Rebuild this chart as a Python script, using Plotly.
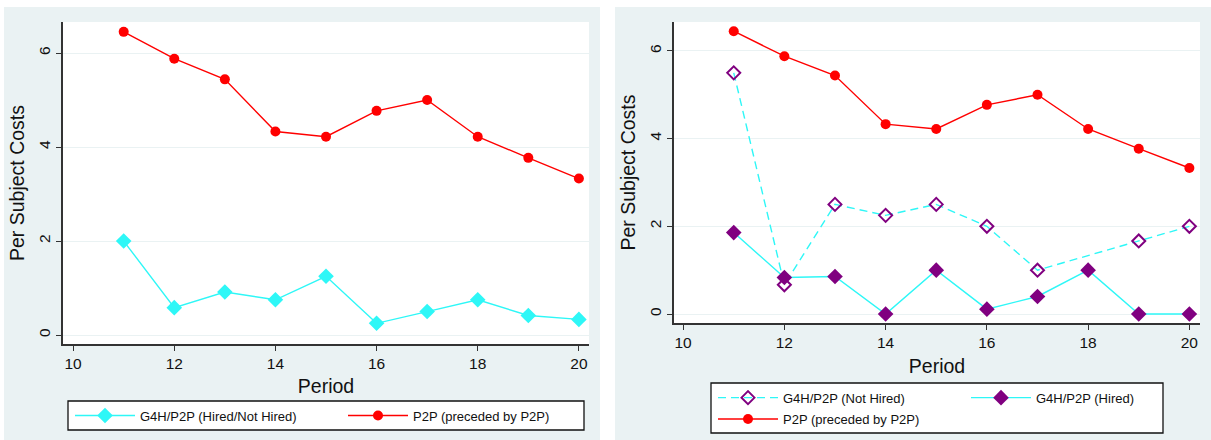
import plotly.graph_objects as go

# ---------------- data ----------------
periods = [11, 12, 13, 14, 15, 16, 17, 18, 19, 20]
p2p_costs = [6.45, 5.88, 5.44, 4.33, 4.22, 4.77, 5.0, 4.22, 3.77, 3.33]
g4h_all_costs = [2.0, 0.583, 0.917, 0.75, 1.25, 0.25, 0.5, 0.75, 0.417, 0.333]
g4h_not_hired = [5.5, 0.667, 2.5, 2.25, 2.5, 2.0, 1.0, None, 1.667, 2.0]
g4h_hired = [1.857, 0.833, 0.857, 0.0, 1.0, 0.111, 0.4, 1.0, 0.0, 0.0]
x_ticks = [10, 12, 14, 16, 18, 20]
y_ticks = [0, 2, 4, 6]

W, H = 1211, 440
def px(x):
    return x / W
def py(y):
    return 1 - y / H

CYAN = "#2EF7F7"
RED = "#FF0000"
PURPLE = "#800080"
BG = "#EAF2F3"
FONT = "Liberation Sans, Arial, sans-serif"

fig = go.Figure()

# left panel
fig.add_trace(go.Scatter(
    x=periods, y=g4h_all_costs, mode="lines+markers", name="G4H/P2P (Hired/Not Hired)",
    line=dict(color=CYAN, width=1.4), marker=dict(symbol="diamond", size=12, color=CYAN),
    xaxis="x", yaxis="y", legend="legend"))
fig.add_trace(go.Scatter(
    x=periods, y=p2p_costs, mode="lines+markers", name="P2P (preceded by P2P)",
    line=dict(color=RED, width=1.4), marker=dict(symbol="circle", size=10, color=RED),
    xaxis="x", yaxis="y", legend="legend2"))

# right panel
fig.add_trace(go.Scatter(
    x=periods, y=g4h_not_hired, mode="lines+markers", name="G4H/P2P (Not Hired)",
    connectgaps=True,
    line=dict(color=CYAN, width=1.4, dash="8px,5px"),
    marker=dict(symbol="diamond-open", size=10, color=PURPLE, line=dict(width=2, color=PURPLE)),
    xaxis="x2", yaxis="y2", legend="legend3"))
fig.add_trace(go.Scatter(
    x=periods, y=g4h_hired, mode="lines+markers", name="G4H/P2P (Hired)",
    line=dict(color=CYAN, width=1.4), marker=dict(symbol="diamond", size=12, color=PURPLE),
    xaxis="x2", yaxis="y2", legend="legend4"))
fig.add_trace(go.Scatter(
    x=periods, y=p2p_costs, mode="lines+markers", name="P2P (preceded by P2P)",
    line=dict(color=RED, width=1.4), marker=dict(symbol="circle", size=10, color=RED),
    xaxis="x2", yaxis="y2", legend="legend5"))

axis_common = dict(
    showline=True, linecolor="#333333", linewidth=1.5, ticks="outside", ticklen=5,
    tickcolor="#333333", tickwidth=1.2, tickfont=dict(size=15.5, color="#111111", family=FONT),
    zeroline=False,
)

def legend_at(x, y):
    return dict(x=px(x), y=py(y), xanchor="left", yanchor="middle", orientation="h",
                itemwidth=60, bgcolor="rgba(0,0,0,0)", borderwidth=0,
                font=dict(size=13, family=FONT))

fig.update_layout(
    width=W, height=H, margin=dict(l=0, r=0, t=0, b=0),
    paper_bgcolor="white", plot_bgcolor="white",
    font=dict(family=FONT, color="#111111"),
    xaxis=dict(axis_common, domain=[px(63), px(589)], range=[9.80, 20.2], tickvals=x_ticks,
               showgrid=False, anchor="y",
               title=dict(text="Period", font=dict(size=19.5), standoff=8)),
    yaxis=dict(axis_common, domain=[py(344), py(22)], range=[-0.19, 6.66], tickvals=y_ticks,
               tickangle=-90, showgrid=True, gridcolor=BG, gridwidth=1, anchor="x",
               title=dict(text="Per Subject Costs", font=dict(size=19.5), standoff=6)),
    xaxis2=dict(axis_common, domain=[px(674), px(1200)], range=[9.82, 20.21], tickvals=x_ticks,
                showgrid=False, anchor="y2",
                title=dict(text="Period", font=dict(size=19.5), standoff=9)),
    yaxis2=dict(axis_common, domain=[py(323), py(22)], range=[-0.205, 6.66], tickvals=y_ticks,
                tickangle=-90, showgrid=True, gridcolor=BG, gridwidth=1, anchor="x2",
                title=dict(text="Per Subject Costs", font=dict(size=19.5), standoff=6)),
    legend=legend_at(70, 415.5),
    legend2=legend_at(343, 415.5),
    legend3=legend_at(713, 397.7),
    legend4=legend_at(966, 397.7),
    legend5=legend_at(713, 419),
    showlegend=True,
)

shapes = []
# panel backgrounds
for x0, x1 in [(4, 600), (615, 1211)]:
    shapes.append(dict(type="rect", xref="paper", yref="paper", x0=px(x0), x1=px(x1),
                       y0=py(440), y1=py(7), fillcolor=BG, line=dict(width=0), layer="below"))
# plot areas
for x0, x1, y1 in [(63, 589, 344), (674, 1200, 323)]:
    shapes.append(dict(type="rect", xref="paper", yref="paper", x0=px(x0), x1=px(x1),
                       y0=py(y1), y1=py(22), fillcolor="white", line=dict(width=0), layer="below"))
# legend boxes
for x0, x1, y0, y1 in [(68, 584, 401, 430), (711, 1163, 383, 433)]:
    shapes.append(dict(type="rect", xref="paper", yref="paper", x0=px(x0), x1=px(x1),
                       y0=py(y1), y1=py(y0), fillcolor="white",
                       line=dict(width=1.3, color="#111111"), layer="below"))
fig.update_layout(shapes=shapes)

fig.write_html("out.html")
